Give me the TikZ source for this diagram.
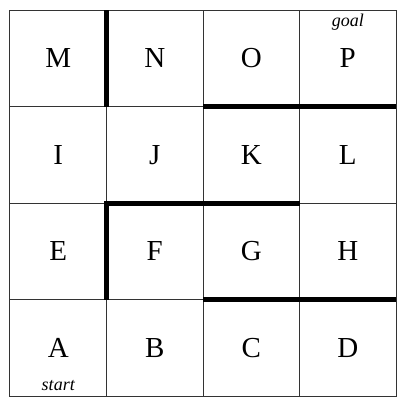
\documentclass[tikz,border=0pt]{standalone}
\usepackage{fontspec}
\setmainfont{Liberation Serif}
\usepackage{tikz}
\usetikzlibrary{positioning}

\begin{document}
\begin{tikzpicture}[x=96.5pt, y=96.5pt, cell/.style={rectangle, draw=black!80, line width=1pt, minimum size=96.5pt, inner sep=0pt, outer sep=0pt, font=\fontsize{29}{32}\selectfont}, wall/.style={line width=5pt, black, line join=miter}, tag/.style={font=\fontsize{18}{20}\selectfont\itshape, inner sep=0pt}]
\useasboundingbox (-0.1036,-0.114) rectangle (4.124,4.104);

\node[cell] (A) at (0.5,0.5) {A};
\node[cell] (B) at (1.5,0.5) {B};
\node[cell] (C) at (2.5,0.5) {C};
\node[cell] (D) at (3.5,0.5) {D};

\node[cell] (E) at (0.5,1.5) {E};
\node[cell] (F) at (1.5,1.5) {F};
\node[cell] (G) at (2.5,1.5) {G};
\node[cell] (H) at (3.5,1.5) {H};

\node[cell] (I) at (0.5,2.5) {I};
\node[cell] (J) at (1.5,2.5) {J};
\node[cell] (K) at (2.5,2.5) {K};
\node[cell] (L) at (3.5,2.5) {L};

\node[cell] (M) at (0.5,3.5) {M};
\node[cell] (N) at (1.5,3.5) {N};
\node[cell] (O) at (2.5,3.5) {O};
\node[cell] (P) at (3.5,3.5) {P};

\node[tag, above=5pt of A.south] (start) {start};
\node[tag, below=4pt of P.north] (goal) {goal};

% walls
\foreach \from/\to in {M.north east/M.south east, O.south west/P.south east, G.south west/H.south east}
    \draw[wall] (\from) -- (\to);
\draw[wall] (F.south west) -- (F.north west) -- (G.north east);
\end{tikzpicture}
\end{document}
